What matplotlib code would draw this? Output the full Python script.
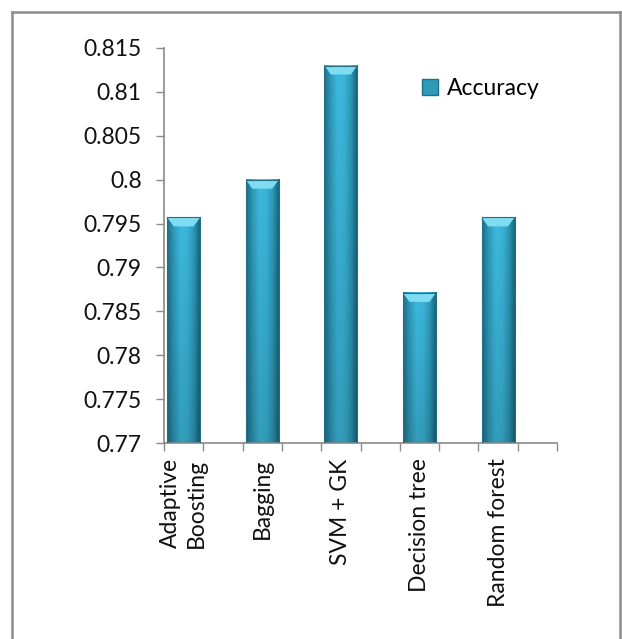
import numpy as np
import matplotlib.pyplot as plt
from matplotlib.colors import LinearSegmentedColormap
from matplotlib.patches import Polygon
from matplotlib.lines import Line2D
from matplotlib.ticker import FuncFormatter

categories = ['Adaptive\nBoosting', 'Bagging', 'SVM + GK', 'Decision tree', 'Random forest']
accuracy = [0.7957, 0.8000, 0.8130, 0.7871, 0.7957]
series_name = 'Accuracy'
y_ticks = np.arange(0.77, 0.8151, 0.005)

plt.rcParams['font.family'] = ['Lato', 'DejaVu Sans']

fig = plt.figure(figsize=(6.22, 6.39), dpi=100)
ax = fig.add_axes([0.2637, 0.3067, 0.6318, 0.6182])

ymin, ymax = 0.77, 0.815
ax.set_xlim(0, len(categories))
ax.set_ylim(ymin, ymax)

# shaded column look (excel style)
shade = LinearSegmentedColormap.from_list(
    'col', ['#1f6f88', '#2e9bbb', '#3cb9dd', '#3ab5d9', '#2d97b6', '#175e74'])
grad = np.tile(np.linspace(0, 1, 64), (32, 1))
vert = np.linspace(0.85, 1.0, 32)[:, None, None]
rgb = shade(grad)[..., :3] * vert

width = 0.42
ax_h_px = 0.6182 * 639
bevel = (ymax - ymin) * 9 / ax_h_px
for i, v in enumerate(accuracy):
    x0 = i + 0.25 - width / 2
    x1 = i + 0.25 + width / 2
    ax.imshow(rgb, extent=[x0, x1, ymin, v], aspect='auto', origin='lower',
              zorder=2, interpolation='bilinear')
    ax.add_patch(Polygon([[x0, v], [x1, v], [x1 - width * 0.2, v - bevel],
                          [x0 + width * 0.2, v - bevel]],
                         closed=True, facecolor='#7fdcf3', edgecolor='none', zorder=3))
    ax.plot([x0, x1, x1, x0, x0], [ymin, ymin, v, v, ymin], color='#236f86', lw=0.8, zorder=4)

ax.set_xlim(0, len(categories))
ax.set_ylim(ymin, ymax)

ax.set_yticks(y_ticks)
ax.yaxis.set_major_formatter(FuncFormatter(lambda v, p: '%g' % round(v, 3)))
ax.set_xticks(np.arange(len(categories)) + 0.25)
ax.set_xticklabels(categories, rotation=90, va='top', ha='center', linespacing=1.3)
ax.set_xticks(np.arange(0, len(categories) + 0.01, 0.5), minor=True)
ax.tick_params(axis='x', which='major', length=0, pad=11, labelsize=16.5, colors='#111111')
ax.tick_params(axis='x', which='minor', length=6, width=1, color='#8a8a8a', direction='out')
ax.tick_params(axis='y', length=6, width=1, color='#8a8a8a', pad=10, labelsize=16.5,
               labelcolor='#111111')

for s in ['top', 'right']:
    ax.spines[s].set_visible(False)
for s in ['left', 'bottom']:
    ax.spines[s].set_color('#8a8a8a')
    ax.spines[s].set_linewidth(1.2)

handle = plt.Rectangle((0, 0), 1, 1, facecolor='#2e9bbb', edgecolor='#1f6f88')
fig.legend([handle], [series_name], loc='center left', bbox_to_anchor=(0.678, 0.861),
           frameon=False, fontsize=16.5, handlelength=0.7, handleheight=0.7,
           handletextpad=0.4, borderpad=0, borderaxespad=0)

# chart border (bottom edge is cut off in the original)
bc = '#8c8c8c'
fig.add_artist(Line2D([12 / 622, 12 / 622], [0, 1 - 12 / 639], color=bc, lw=1.8))
fig.add_artist(Line2D([12 / 622, 620 / 622], [1 - 12 / 639, 1 - 12 / 639], color=bc, lw=1.8))
fig.add_artist(Line2D([620 / 622, 620 / 622], [0, 1 - 12 / 639], color=bc, lw=1.8))

fig.savefig('out.png', dpi=100)
